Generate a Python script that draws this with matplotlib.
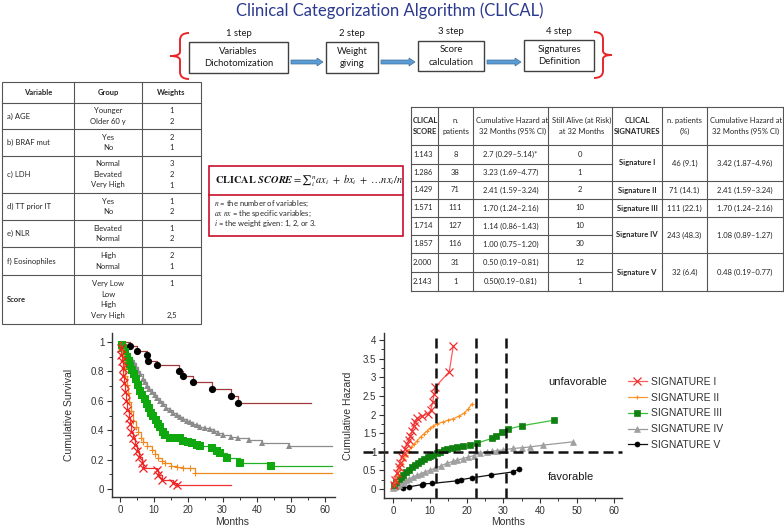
import matplotlib.pyplot as plt
from matplotlib.patches import Rectangle, FancyArrow, PathPatch
from matplotlib.path import Path
from matplotlib.ticker import MultipleLocator, FuncFormatter

plt.rcParams['font.family'] = ['Liberation Sans', 'DejaVu Sans']
plt.rcParams['mathtext.fontset'] = 'stix'

# ─── Data: variables table ───────────────────────────────────────────────────

var_names = ['a) AGE', 'b) BRAF mut', 'c) LDH', 'd) TT prior IT', 'e) NLR', 'f) Eosinophiles', 'Score']
var_groups = [['Younger', 'Older 60 y'], ['Yes', 'No'], ['Normal', 'Elevated', 'Very High'],
              ['Yes', 'No'], ['Elevated', 'Normal'], ['High', 'Normal'],
              ['Very Low', 'Low', 'High', 'Very High']]
var_weights = [['1', '2'], ['2', '1'], ['3', '2', '1'], ['1', '2'], ['1', '2'], ['2', '1'],
               ['1', '', '', '2,5']]

# ─── Data: score / signature table ───────────────────────────────────────────

score_vals = ['1.143', '1.286', '1.429', '1.571', '1.714', '1.857', '2.000', '2.143']
score_n = ['8', '38', '71', '111', '127', '116', '31', '1']
score_hz = ['2.7 (0.29–5.14)*', '3.23 (1.69–4.77)', '2.41 (1.59–3.24)', '1.70 (1.24–2.16)',
            '1.14 (0.86–1.43)', '1.00 (0.75–1.20)', '0.50 (0.19–0.81)', '0.50(0.19–0.81)']
score_alive = ['0', '1', '2', '10', '10', '30', '12', '1']

sig_names = ['Signature I', 'Signature II', 'Signature III', 'Signature IV', 'Signature V']
sig_span = [2, 1, 1, 2, 2]
sig_n = ['46 (9.1)', '71 (14.1)', '111 (22.1)', '243 (48.3)', '32 (6.4)']
sig_hz = ['3.42 (1.87–4.96)', '2.41 (1.59–3.24)', '1.70 (1.24–2.16)', '1.08 (0.89–1.27)',
          '0.48 (0.19–0.77)']

steps = ['1 step', '2 step', '3 step', '4 step']
step_boxes = ['Variables\nDichotomization', 'Weight\ngiving', 'Score\ncalculation', 'Signatures\nDefinition']

legend_labels = ['SIGNATURE I', 'SIGNATURE II', 'SIGNATURE III', 'SIGNATURE IV', 'SIGNATURE V']

# ─── Data: Kaplan-Meier survival (months, survival) ──────────────────────────

km_t1 = [0, 0.2, 0.4, 0.6, 0.8, 1.0, 1.2, 1.5, 1.8, 2.1, 2.5, 2.9, 3.3, 3.9, 4.4, 4.9, 5.5,
         6.3, 6.8, 10.7, 11.2, 12.2, 15.6, 16.6, 32.6]
km_s1 = [1.0, 0.96, 0.91, 0.87, 0.82, 0.77, 0.72, 0.66, 0.60, 0.54, 0.48, 0.44, 0.39, 0.35,
         0.30, 0.26, 0.22, 0.18, 0.14, 0.13, 0.095, 0.06, 0.04, 0.025, 0.025]

km_t2 = [0, 0.3, 0.5, 0.8, 1.2, 1.6, 2.0, 2.4, 2.7, 3.2, 3.9, 4.6, 5.4, 6.1, 6.8, 8.0, 9.3,
         10.2, 11.2, 12.2, 13.2, 14.8, 16.6, 18.5, 20.5, 21.9, 62]
km_s2 = [1.0, 0.95, 0.91, 0.87, 0.82, 0.77, 0.71, 0.65, 0.59, 0.53, 0.46, 0.42, 0.39, 0.35,
         0.32, 0.29, 0.265, 0.24, 0.21, 0.19, 0.175, 0.16, 0.15, 0.145, 0.14, 0.11, 0.11]

km_t3 = [0, 0.5, 1.0, 1.5, 2.0, 2.5, 3.0, 3.5, 4.0, 4.6, 5.2, 5.8, 6.5, 7.2, 7.8, 8.5, 9.2,
         9.8, 10.5, 11.2, 11.8, 12.5, 13.2, 14.5, 16.0, 17.5, 18.5, 19.8, 21.0, 22.4, 23.5,
         26.8, 28.5, 29.3, 31.2, 35.1, 44.1, 62]
km_s3 = [1.0, 0.98, 0.96, 0.93, 0.90, 0.87, 0.84, 0.81, 0.78, 0.75, 0.71, 0.67, 0.64, 0.61,
         0.58, 0.55, 0.52, 0.50, 0.47, 0.44, 0.42, 0.39, 0.37, 0.35, 0.35, 0.345, 0.33, 0.32,
         0.31, 0.30, 0.295, 0.276, 0.26, 0.243, 0.209, 0.179, 0.157, 0.157]

km_t4 = [0, 0.6, 1.1, 1.7, 2.3, 2.9, 3.4, 4.0, 4.7, 5.3, 5.9, 6.6, 7.2, 7.9, 8.6, 9.3, 10.1,
         10.9, 11.7, 12.6, 13.6, 14.6, 15.6, 16.6, 17.6, 18.5, 19.5, 20.6, 21.4, 22.4, 23.5,
         24.8, 26.3, 27.6, 28.8, 30.2, 32.4, 34.5, 37.8, 41.4, 49.5, 62]
km_s4 = [1.0, 0.98, 0.96, 0.94, 0.92, 0.90, 0.88, 0.86, 0.83, 0.80, 0.78, 0.75, 0.73, 0.70,
         0.68, 0.66, 0.64, 0.62, 0.60, 0.58, 0.55, 0.535, 0.52, 0.505, 0.49, 0.475, 0.465,
         0.455, 0.445, 0.435, 0.425, 0.415, 0.405, 0.395, 0.38, 0.365, 0.355, 0.345, 0.333,
         0.315, 0.29, 0.29]

km_t5 = [0, 2.9, 5.1, 8.0, 8.3, 10.7, 17.3, 18.3, 21.4, 26.8, 32.6, 34.4, 56]
km_s5 = [1.0, 0.975, 0.94, 0.91, 0.87, 0.843, 0.80, 0.77, 0.73, 0.68, 0.633, 0.583, 0.583]

# ─── Data: cumulative hazard (months, hazard) ────────────────────────────────

hz_t1 = [0.2, 0.5, 1.0, 1.5, 1.9, 2.4, 2.9, 3.3, 3.8, 4.3, 4.7, 5.2, 5.6, 6.0, 6.5, 8.0, 9.5,
         10.3, 10.8, 11.2, 11.4, 15.3, 16.4]
hz_h1 = [0.10, 0.25, 0.42, 0.58, 0.70, 0.85, 0.98, 1.08, 1.20, 1.32, 1.42, 1.55, 1.68, 1.80,
         1.90, 1.96, 2.02, 2.12, 2.35, 2.55, 2.73, 3.15, 3.84]

hz_t2 = [0.3, 0.8, 1.3, 1.9, 2.4, 3.0, 3.6, 4.3, 5.0, 5.8, 6.6, 7.5, 8.4, 9.3, 10.2, 11.0,
         12.0, 13.5, 15.0, 16.4, 18.0, 19.4, 20.5, 21.4]
hz_h2 = [0.10, 0.25, 0.40, 0.55, 0.68, 0.80, 0.92, 1.03, 1.12, 1.20, 1.30, 1.40, 1.48, 1.56,
         1.63, 1.70, 1.75, 1.80, 1.85, 1.89, 1.96, 2.04, 2.15, 2.28]

hz_t3 = [0.3, 0.9, 1.5, 2.1, 2.8, 3.5, 4.3, 5.1, 6.0, 6.8, 7.6, 8.5, 9.4, 10.2, 11.0, 11.9,
         12.8, 13.8, 14.6, 16.0, 17.5, 19.1, 21.0, 22.8, 26.9, 28.0, 29.6, 31.4, 35.0, 43.9]
hz_h3 = [0.11, 0.18, 0.26, 0.32, 0.38, 0.45, 0.52, 0.58, 0.64, 0.70, 0.75, 0.80, 0.85, 0.88,
         0.92, 0.96, 1.00, 1.04, 1.07, 1.10, 1.13, 1.15, 1.18, 1.23, 1.36, 1.42, 1.54, 1.61,
         1.70, 1.85]

hz_t4 = [0, 0.5, 1.0, 1.6, 2.2, 2.9, 3.6, 4.4, 5.5, 6.5, 7.5, 8.7, 10.1, 11.5, 13.0, 14.6,
         16.2, 17.5, 19.1, 20.5, 22.0, 23.7, 25.5, 27.0, 28.2, 30.0, 32.7, 35.0, 37.3, 40.9, 49.1]
hz_h4 = [0.03, 0.06, 0.09, 0.12, 0.16, 0.19, 0.23, 0.27, 0.33, 0.37, 0.41, 0.46, 0.51, 0.56,
         0.62, 0.69, 0.74, 0.78, 0.82, 0.86, 0.90, 0.96, 0.99, 1.01, 1.03, 1.05, 1.09, 1.11,
         1.13, 1.18, 1.27]

hz_t5 = [2.6, 4.4, 7.8, 8.1, 10.5, 17.3, 18.4, 21.4, 26.7, 32.6, 34.4]
hz_h5 = [0.02, 0.06, 0.12, 0.14, 0.15, 0.22, 0.25, 0.30, 0.38, 0.46, 0.54]

cutoffs = [11.7, 22.6, 30.7]

# ─── Figure with a pixel overlay ─────────────────────────────────────────────

W, H = 784, 530
fig = plt.figure(figsize=(W / 100, H / 100), dpi=100)
ov = fig.add_axes([0, 0, 1, 1])
ov.set_xlim(0, W)
ov.set_ylim(H, 0)
ov.axis('off')

TF = ['Lato', 'DejaVu Sans']
TXT = '#262626'
GRID = '#555555'


def fax(left, top, right, bottom):
    return fig.add_axes([left / W, 1 - bottom / H, (right - left) / W, (bottom - top) / H])


def hline(x0, x1, y, **kw):
    ov.plot([x0, x1], [y, y], color=kw.get('color', GRID), lw=kw.get('lw', 0.8))


def vline(x, y0, y1, **kw):
    ov.plot([x, x], [y0, y1], color=kw.get('color', GRID), lw=kw.get('lw', 0.8))


def cell(x, y, s, ha='center', fs=5.5, bold=False, **kw):
    ov.text(x, y, s, ha=ha, va='center', fontsize=fs, family=TF, color=TXT,
            fontweight='bold' if bold else 'normal', **kw)


# ─── Title and flow ──────────────────────────────────────────────────────────

ov.text(390, 11, 'Clinical Categorization Algorithm (CLICAL)', ha='center', va='center',
        fontsize=12, family=TF, color='#2B3990')

box_x = [(189, 288), (326, 378), (418, 484), (524, 594)]
box_y = [(42, 73), (42, 73), (41, 71), (40, 71)]
for (x0, x1), (y0, y1), st, lab in zip(box_x, box_y, steps, step_boxes):
    ov.add_patch(Rectangle((x0, y0), x1 - x0, y1 - y0, fill=False, ec='#404040', lw=1.0))
    ov.text((x0 + x1) / 2, (y0 + y1) / 2, lab, ha='center', va='center', fontsize=6.8,
            family=TF, color='#1a1a1a', linespacing=1.45)
    ov.text((x0 + x1) / 2, y0 - 9, st, ha='center', va='center', fontsize=6.8,
            family=TF, color='#1a1a1a')

for i in range(3):
    xa = box_x[i][1] + 3
    xb = box_x[i + 1][0] - 3
    ov.add_patch(FancyArrow(xa, 62, xb - xa, 0, width=4, head_width=8, head_length=6,
                            length_includes_head=True, fc='#5B9BD5', ec='#41719C', lw=0.5))


def brace(xh, xv, xt, yt, yb, ym):
    verts = [(xh, yt), (xv, yt), (xv, yt + 7), (xv, ym - 4), (xv, ym), (xt, ym),
             (xv, ym), (xv, ym + 4), (xv, yb - 7), (xv, yb), (xh, yb)]
    codes = [Path.MOVETO, Path.CURVE3, Path.CURVE3, Path.LINETO, Path.CURVE3, Path.CURVE3,
             Path.CURVE3, Path.CURVE3, Path.LINETO, Path.CURVE3, Path.CURVE3]
    ov.add_patch(PathPatch(Path(verts, codes), fill=False, ec='#E8262A', lw=1.4))


brace(189, 180, 170, 33, 79, 56)
brace(594, 603, 612, 32, 78, 55)

# ─── Variables table ─────────────────────────────────────────────────────────

lt_cols = [2, 74, 142, 201]
lt_rows = [82, 103, 129, 156, 193, 220, 247, 275, 324]
ov.add_patch(Rectangle((2, 82), 199, 242, fill=False, ec=GRID, lw=0.8))
for x in lt_cols[1:-1]:
    vline(x, 82, 324)
for y in lt_rows[1:-1]:
    hline(2, 201, y)
cell(38, 92.5, 'Variable', bold=True)
cell(108, 92.5, 'Group', bold=True)
cell(171.5, 92.5, 'Weights', bold=True)
for i, name in enumerate(var_names):
    y0, y1 = lt_rows[i + 1], lt_rows[i + 2]
    yc = (y0 + y1) / 2
    cell(7, yc, name, ha='left', bold=(name == 'Score'))
    n = len(var_groups[i])
    for j, (g, w) in enumerate(zip(var_groups[i], var_weights[i])):
        yy = yc + (j - (n - 1) / 2) * 10.5
        cell(108, yy, g)
        if w:
            cell(171.5, yy, w)

# ─── Formula box ─────────────────────────────────────────────────────────────

ov.add_patch(Rectangle((209, 166), 194, 70, fill=False, ec='#C8102E', lw=1.2))
hline(209, 403, 195, color='#C8102E', lw=1.2)
ov.text(215, 181, r'$\mathbf{CLICAL}\ \mathbfit{SCORE} = {\sum}_{i}^{n} ax_i\ +\ bx_i\ +\ \ldots nx_i/n$',
        ha='left', va='center', fontsize=7.5, color='#111111')
ov.text(214, 204, '$n$ = the number of variables;', ha='left', va='center', fontsize=5.5,
        family=TF, color=TXT)
ov.text(214, 214, '$ax\\ nx$ = the specific variables;', ha='left', va='center', fontsize=5.5,
        family=TF, color=TXT)
ov.text(214, 224, '$i$ = the weight given: 1, 2, or 3.', ha='left', va='center', fontsize=5.5,
        family=TF, color=TXT)

# ─── Score / signature table ─────────────────────────────────────────────────

mt_cols = [411, 438, 473, 548, 612, 662, 707, 783]
mt_rows = [107, 145, 164, 181, 199, 217, 235, 253, 272, 291]
for x in mt_cols:
    vline(x, 107, 291)
for y in (107, 145, 291):
    hline(411, 783, y)
for y in mt_rows[2:-1]:
    hline(411, 612, y)

hy = (107 + 145) / 2
cell(413, hy, 'CLICAL\nSCORE', ha='left', bold=True, linespacing=1.7)
cell((438 + 473) / 2, hy, 'n.\npatients', linespacing=1.7)
cell((473 + 548) / 2 + 2, hy, 'Cumulative Hazard at\n32 Months (95% CI)', linespacing=1.7)
cell((548 + 612) / 2 + 2, hy, 'Still Alive (at Risk)\nat 32 Months', linespacing=1.7)
cell((612 + 662) / 2, hy, 'CLICAL\nSIGNATURES', bold=True, linespacing=1.7)
cell((662 + 707) / 2, hy, 'n. patients\n(%)', linespacing=1.7)
cell((707 + 783) / 2 + 1, hy, 'Cumulative Hazard at\n32 Months (95% CI)', linespacing=1.7)

for i in range(len(score_vals)):
    yc = (mt_rows[i + 1] + mt_rows[i + 2]) / 2
    cell(413, yc, score_vals[i], ha='left')
    cell((438 + 473) / 2, yc, score_n[i])
    cell((473 + 548) / 2, yc, score_hz[i])
    cell((548 + 612) / 2, yc, score_alive[i])

r = 1
for i, span in enumerate(sig_span):
    y0, y1 = mt_rows[r], mt_rows[r + span]
    if r + span < len(mt_rows) - 1:
        hline(612, 783, y1)
    yc = (y0 + y1) / 2
    cell((612 + 662) / 2, yc, sig_names[i], bold=True)
    cell((662 + 707) / 2, yc, sig_n[i])
    cell((707 + 783) / 2, yc, sig_hz[i])
    r += span

# ─── Plot helpers ────────────────────────────────────────────────────────────

styles = [
    dict(lc='#EE3030', mk='x', mc='#EE2020', ms=5.0, mew=0.9),
    dict(lc='#EE8A20', mk='+', mc='#F08A20', ms=3.5, mew=0.8),
    dict(lc='#22B022', mk='s', mc='#0FA80F', ms=4.8, mew=0),
    dict(lc='#8C8C8C', mk='^', mc='#8C8C8C', ms=4.6, mew=0),
    dict(lc='#A03A3A', mk='o', mc='#000000', ms=4.8, mew=0),
]


def style_axes(ax, xlim, ylim, ymaj, ymin, ylab):
    ax.set_facecolor('none')
    ax.set_xlim(*xlim)
    ax.set_ylim(*ylim)
    for s in ('top', 'right'):
        ax.spines[s].set_visible(False)
    for s in ('left', 'bottom'):
        ax.spines[s].set_color('#333333')
        ax.spines[s].set_linewidth(1.0)
    ax.xaxis.set_major_locator(MultipleLocator(10))
    ax.xaxis.set_minor_locator(MultipleLocator(5))
    ax.yaxis.set_major_locator(MultipleLocator(ymaj))
    ax.yaxis.set_minor_locator(MultipleLocator(ymin))
    ax.yaxis.set_major_formatter(FuncFormatter(lambda v, p: '%g' % round(v, 2)))
    ax.tick_params(which='major', length=3.5, width=0.8, labelsize=7, colors='#333333', pad=2)
    ax.tick_params(which='minor', length=2, width=0.7, colors='#333333')
    ax.set_ylabel(ylab, fontsize=7.5, color='#333333')
    ax.set_xlabel('Months', fontsize=7.5, color='#333333')


# ─── Kaplan-Meier ────────────────────────────────────────────────────────────

ax1 = fax(112, 333, 335, 497)
style_axes(ax1, (-2.34, 62.9), (-0.054, 1.061), 0.2, 0.1, 'Cumulative Survival')
ax1.yaxis.set_label_coords(-0.17, 0.5)
ax1.xaxis.set_label_coords(0.54, -0.12)

km_data = [(km_t1, km_s1), (km_t2, km_s2), (km_t3, km_s3), (km_t4, km_s4), (km_t5, km_s5)]
for (t, s), st in zip(km_data[::-1], styles[::-1]):
    ax1.plot(t, s, drawstyle='steps-post', color=st['lc'], lw=0.9)
    ax1.plot(t[1:-1], s[1:-1], ls='none', marker=st['mk'], color=st['mc'],
             ms=st['ms'] + 0.4, mew=st['mew'])

# ─── Cumulative hazard ───────────────────────────────────────────────────────

ax2 = fax(384, 333, 622, 498)
style_axes(ax2, (-2.45, 62.3), (-0.24, 4.19), 0.5, 0.25, 'Cumulative Hazard')
ax2.yaxis.set_label_coords(-0.13, 0.5)
ax2.xaxis.set_label_coords(0.52, -0.115)

hz_data = [(hz_t1, hz_h1), (hz_t2, hz_h2), (hz_t3, hz_h3), (hz_t4, hz_h4), (hz_t5, hz_h5)]
hz_styles = [
    dict(lc='#FF5A5A', mc='#F03030', ms=5.5),
    dict(lc='#FF9933', mc='#FF8C1A', ms=3.5),
    dict(lc='#3CC03C', mc='#108010', ms=4.5),
    dict(lc='#9A9A9A', mc='#A0A0A0', ms=4.2),
    dict(lc='#111111', mc='#000000', ms=3.6),
]
handles = []
for (t, h), st, hs, lab in zip(hz_data[::-1], styles[::-1], hz_styles[::-1], legend_labels[::-1]):
    ln, = ax2.plot(t, h, color=hs['lc'], lw=0.9, marker=st['mk'], mfc=hs['mc'], mec=hs['mc'],
                   ms=hs['ms'], mew=st['mew'] if st['mew'] else 0.5, label=lab)
    handles.append(ln)

for c in cutoffs:
    ax2.axvline(c, color='#111111', lw=1.8, dashes=(4, 2))
ax2.plot([-8.2, 62.3], [1, 1], color='#111111', lw=1.8, dashes=(4, 2), clip_on=False)

ov.text(548, 382, 'unfavorable', ha='left', va='center', fontsize=8, color='#1a1a1a')
ov.text(548, 477, 'favorable', ha='left', va='center', fontsize=8, color='#1a1a1a')

fig.legend(handles[::-1], legend_labels, loc='upper left', bbox_to_anchor=(628 / W, 1 - 377 / H),
           frameon=False, borderpad=0, borderaxespad=0, handlelength=1.8, handletextpad=0.4,
           labelspacing=0.55, prop={'family': ['Liberation Sans Narrow', 'Liberation Sans'], 'size': 7.5},
           labelcolor='#333333')

fig.savefig('out.png', dpi=100)
